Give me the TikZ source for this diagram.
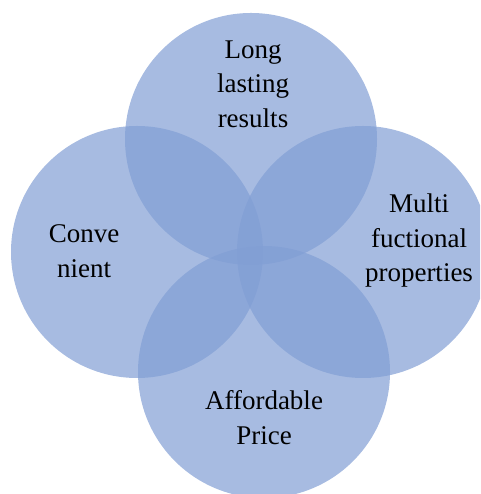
\documentclass[tikz,border=0pt]{standalone}
\usepackage{fontspec}
\setmainfont{Liberation Serif}
\definecolor{petal}{RGB}{129,158,212}
\newcommand{\CTop}{(251,355) circle (126pt)}
\newcommand{\CLeft}{(137,242) circle (126pt)}
\newcommand{\CRight}{(363,242) circle (126pt)}
\newcommand{\CBottom}{(264,122) circle (126pt)}

\begin{document}
\begin{tikzpicture}[x=1pt,y=1pt,
  petalfill/.style={fill=petal,fill opacity=0.7},
  word/.style={align=center,inner sep=0pt,font=\fontsize{27}{34.5}\selectfont}]
\useasboundingbox (0,0) rectangle (480,494);
\clip (0,0) rectangle (480,494);
\fill[petalfill] \CTop;
\fill[petalfill] \CLeft;
\fill[petalfill] \CRight;
\fill[petalfill] \CBottom;
\node[word] (lasting) at (253,410) {Long\\lasting\\results};
\node[word] (conv) at (84,243) {Conve\\nient};
\node[word] (multi) at (419,253) {Multi\\fuctional\\properties};
\node[word] (price) at (264,76.5) {Affordable\\Price};
\end{tikzpicture}
\end{document}
